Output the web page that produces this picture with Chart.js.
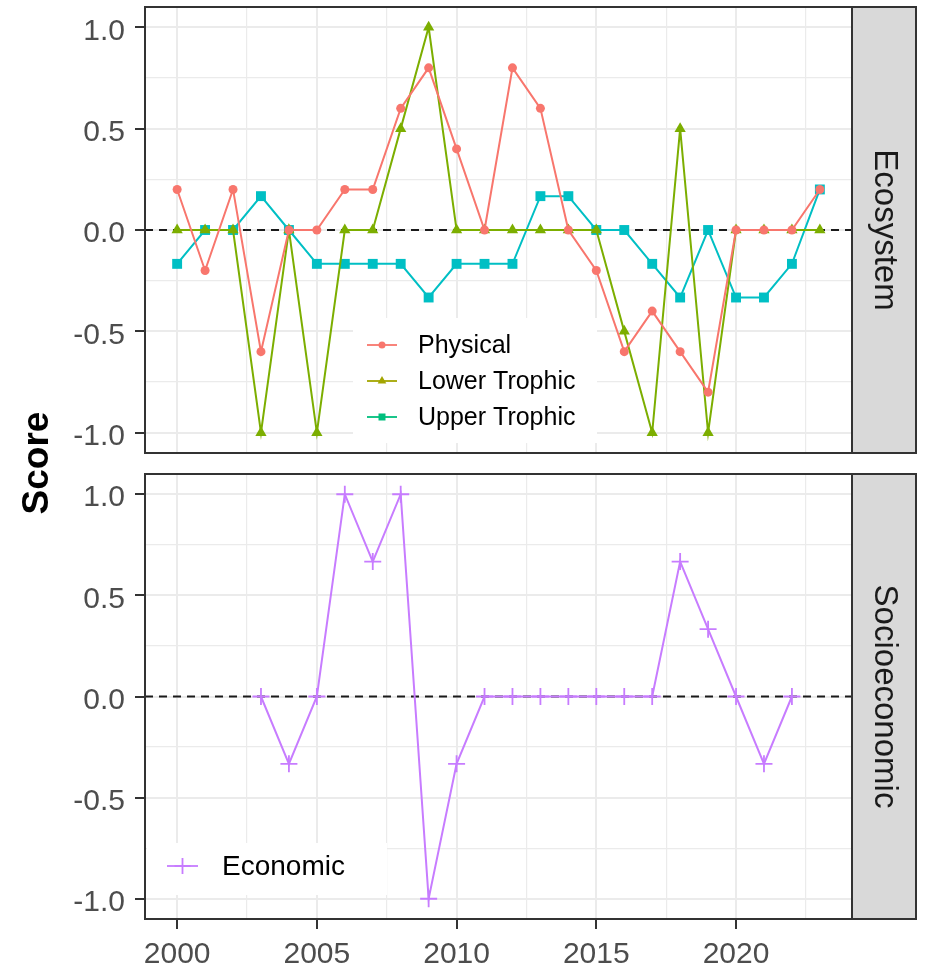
<!DOCTYPE html>
<html>
<head>
<meta charset="utf-8">
<script src="https://cdn.jsdelivr.net/npm/chart.js@4.4.1/dist/chart.umd.min.js"></script>
<style>
  html, body { margin: 0; padding: 0; background: #ffffff; }
  #wrap { position: relative; width: 927px; height: 968px; }
  #wrap canvas { position: absolute; left: 0; top: 0; }
</style>
</head>
<body>
<div id="wrap">
  <canvas id="eco" width="927" height="968"></canvas>
  <canvas id="soc" width="927" height="968"></canvas>
</div>
<script>
// ---- data -------------------------------------------------------------
const years = [2000, 2001, 2002, 2003, 2004, 2005, 2006, 2007, 2008, 2009, 2010, 2011,
               2012, 2013, 2014, 2015, 2016, 2017, 2018, 2019, 2020, 2021, 2022, 2023];

const physical     = [0.2, -0.2, 0.2, -0.6, 0, 0, 0.2, 0.2, 0.6, 0.8, 0.4, 0,
                      0.8, 0.6, 0, -0.2, -0.6, -0.4, -0.6, -0.8, 0, 0, 0, 0.2];
const lowerTrophic = [0, 0, 0, -1, 0, -1, 0, 0, 0.5, 1, 0, 0,
                      0, 0, 0, 0, -0.5, -1, 0.5, -1, 0, 0, 0, 0];
const upperTrophic = [-0.167, 0, 0, 0.167, 0, -0.167, -0.167, -0.167, -0.167, -0.333, -0.167, -0.167,
                      -0.167, 0.167, 0.167, 0, 0, -0.167, -0.333, 0, -0.333, -0.333, -0.167, 0.2];
const economic     = [null, null, null, 0, -0.333, 0, 1, 0.667, 1, -1, -0.333, 0,
                      0, 0, 0, 0, 0, 0, 0.667, 0.333, 0, -0.333, 0, null];

const xTickValues = [2000, 2002.5, 2005, 2007.5, 2010, 2012.5, 2015, 2017.5, 2020, 2022.5];
const yTickValues = [-1, -0.75, -0.5, -0.25, 0, 0.25, 0.5, 0.75, 1];

const panelNames = ['Ecosystem', 'Socioeconomic'];
const yTitle = 'Score';

// ---- styling ----------------------------------------------------------
const FONT = "'Liberation Sans', Arial, Helvetica, sans-serif";
const COL = { physical: '#F8766D', lower: '#7CAE00', upper: '#00BFC4', economic: '#C77CFF' };
const LINE_W = 2;

function series(values) {
  return years.map((yr, i) => ({ x: yr, y: values[i] }));
}

// small marker painter used by the in-panel legends
function drawMarker(ctx, style, x, y, r, color) {
  ctx.save();
  ctx.fillStyle = color;
  ctx.strokeStyle = color;
  ctx.beginPath();
  if (style === 'circle') {
    ctx.arc(x, y, r, 0, Math.PI * 2);
    ctx.fill();
  } else if (style === 'triangle') {
    ctx.moveTo(x, y - r);
    ctx.lineTo(x + r * 0.866, y + r * 0.5);
    ctx.lineTo(x - r * 0.866, y + r * 0.5);
    ctx.closePath();
    ctx.fill();
  } else if (style === 'rect') {
    ctx.rect(x - r, y - r, 2 * r, 2 * r);
    ctx.fill();
  } else if (style === 'cross') {
    ctx.lineWidth = 1.8;
    ctx.moveTo(x - r, y); ctx.lineTo(x + r, y);
    ctx.moveTo(x, y - r); ctx.lineTo(x, y + r);
    ctx.stroke();
  }
  ctx.restore();
}

// zero reference line, panel frame, facet strip, legend box and shared y title
const panelDecor = {
  id: 'panelDecor',
  beforeDatasetsDraw(chart) {
    const { ctx, chartArea: a, scales: { y } } = chart;
    const y0 = y.getPixelForValue(0);
    ctx.save();
    ctx.strokeStyle = '#1a1a1a';
    ctx.lineWidth = 1.8;
    ctx.setLineDash([8, 6]);
    ctx.beginPath();
    ctx.moveTo(a.left, y0);
    ctx.lineTo(a.right, y0);
    ctx.stroke();
    ctx.restore();
  },
  afterDraw(chart, args, opts) {
    const { ctx, chartArea: a } = chart;
    ctx.save();
    // panel frame
    ctx.strokeStyle = '#333333';
    ctx.lineWidth = 2;
    ctx.strokeRect(a.left, a.top, a.right - a.left, a.bottom - a.top);
    // facet strip
    const sx = a.right, sw = 64;
    ctx.fillStyle = '#d9d9d9';
    ctx.fillRect(sx, a.top, sw, a.bottom - a.top);
    ctx.strokeRect(sx, a.top, sw, a.bottom - a.top);
    ctx.save();
    ctx.translate(sx + sw / 2, (a.top + a.bottom) / 2);
    ctx.rotate(Math.PI / 2);
    ctx.fillStyle = '#1a1a1a';
    ctx.font = '33px ' + FONT;
    ctx.textAlign = 'center';
    ctx.textBaseline = 'middle';
    ctx.fillText(opts.strip, 0, 0);
    ctx.restore();

    // legend
    const lg = opts.legend;
    if (lg) {
      ctx.fillStyle = '#ffffff';
      ctx.fillRect(lg.x, lg.y, lg.w, lg.h);
      lg.items.forEach((it, i) => {
        const cy = lg.firstRow + i * lg.rowGap;
        ctx.strokeStyle = it.color;
        ctx.lineWidth = 1.8;
        ctx.setLineDash([]);
        ctx.beginPath();
        ctx.moveTo(lg.keyX0, cy);
        ctx.lineTo(lg.keyX1, cy);
        ctx.stroke();
        drawMarker(ctx, it.style, (lg.keyX0 + lg.keyX1) / 2, cy, it.r, it.color);
        ctx.fillStyle = '#000000';
        ctx.font = lg.fontSize + 'px ' + FONT;
        ctx.textAlign = 'left';
        ctx.textBaseline = 'middle';
        ctx.fillText(it.label, lg.textX, cy + 1);
      });
    }

    // shared y-axis title
    if (opts.title) {
      ctx.save();
      ctx.translate(opts.title.x, opts.title.y);
      ctx.rotate(-Math.PI / 2);
      ctx.fillStyle = '#000000';
      ctx.font = 'bold 37px ' + FONT;
      ctx.textAlign = 'center';
      ctx.textBaseline = 'middle';
      ctx.fillText(opts.title.text, 0, 0);
      ctx.restore();
    }
    ctx.restore();
  }
};

const isMajorX = v => Math.abs(v % 5) < 1e-9;
const isMajorY = v => Math.abs(v * 2 - Math.round(v * 2)) < 1e-9;

function noEdgePadding(s) {
  s.paddingTop = 0; s.paddingBottom = 0; s.paddingLeft = 0; s.paddingRight = 0;
}

function buildOptions(cfg) {
  return {
    animation: false,
    responsive: false,
    devicePixelRatio: 1,
    events: [],
    layout: { padding: cfg.padding },
    plugins: {
      legend: { display: false },
      tooltip: { enabled: false },
      panelDecor: cfg.decor
    },
    elements: { line: { tension: 0 } },
    scales: {
      x: {
        type: 'linear',
        min: 1998.85,
        max: 2024.15,
        afterBuildTicks: s => { s.ticks = xTickValues.map(v => ({ value: v })); },
        afterFit: s => { s.height = cfg.xHeight; noEdgePadding(s); },
        border: { display: false },
        grid: {
          color: '#ebebeb',
          lineWidth: c => (c.tick && isMajorX(c.tick.value)) ? 2 : 1.2,
          drawTicks: cfg.showX,
          tickLength: 10,
          tickWidth: 2,
          tickColor: c => (c.tick && isMajorX(c.tick.value)) ? '#333333' : 'rgba(0,0,0,0)'
        },
        ticks: {
          display: cfg.showX,
          autoSkip: false,
          maxRotation: 0,
          padding: 8,
          color: '#4d4d4d',
          font: { family: FONT, size: 30 },
          callback: v => isMajorX(v) ? String(v) : ''
        }
      },
      y: {
        type: 'linear',
        min: -1.1,
        max: 1.1,
        afterBuildTicks: s => { s.ticks = yTickValues.map(v => ({ value: v })); },
        afterFit: s => { s.width = 145; noEdgePadding(s); },
        border: { display: false },
        grid: {
          color: '#ebebeb',
          lineWidth: c => (c.tick && isMajorY(c.tick.value)) ? 2 : 1.2,
          tickLength: 10,
          tickWidth: 2,
          tickColor: c => (c.tick && isMajorY(c.tick.value)) ? '#333333' : 'rgba(0,0,0,0)'
        },
        ticks: {
          autoSkip: false,
          padding: 10,
          labelOffset: 4,
          color: '#4d4d4d',
          font: { family: FONT, size: 30 },
          callback: v => isMajorY(v) ? v.toFixed(1) : ''
        }
      }
    }
  };
}

// ---- Ecosystem panel ---------------------------------------------------
new Chart(document.getElementById('eco'), {
  type: 'line',
  data: {
    datasets: [
      { label: 'Physical', data: series(physical), borderColor: COL.physical, backgroundColor: COL.physical,
        borderWidth: LINE_W, pointStyle: 'circle', pointRadius: 4.5, pointBorderWidth: 0,
        pointBackgroundColor: COL.physical },
      { label: 'Lower Trophic', data: series(lowerTrophic), borderColor: COL.lower, backgroundColor: COL.lower,
        borderWidth: LINE_W, pointStyle: 'triangle', pointRadius: 6.5, pointBorderWidth: 0,
        pointBackgroundColor: COL.lower },
      { label: 'Upper Trophic', data: series(upperTrophic), borderColor: COL.upper, backgroundColor: COL.upper,
        borderWidth: LINE_W, pointStyle: 'rect', pointRadius: 7, pointBorderWidth: 0,
        pointBackgroundColor: COL.upper }
    ]
  },
  options: buildOptions({
    padding: { left: 0, right: 75, top: 7, bottom: 515 },
    xHeight: 0,
    showX: false,
    decor: {
      strip: panelNames[0],
      title: { text: yTitle, x: 38, y: 463 },
      legend: {
        x: 353, y: 318, w: 244, h: 125,
        keyX0: 367, keyX1: 397, textX: 418, firstRow: 345, rowGap: 36, fontSize: 25,
        items: [
          { label: 'Physical', color: '#F8766D', style: 'circle', r: 3.5 },
          { label: 'Lower Trophic', color: '#A3A500', style: 'triangle', r: 5 },
          { label: 'Upper Trophic', color: '#00BF7D', style: 'rect', r: 3.5 }
        ]
      }
    }
  }),
  plugins: [panelDecor]
});

// ---- Socioeconomic panel -----------------------------------------------
new Chart(document.getElementById('soc'), {
  type: 'line',
  data: {
    datasets: [
      { label: 'Economic', data: series(economic), borderColor: COL.economic, backgroundColor: COL.economic,
        borderWidth: LINE_W, pointStyle: 'cross', pointRadius: 8.5, pointBorderWidth: 1.8,
        pointBorderColor: COL.economic, spanGaps: false }
    ]
  },
  options: buildOptions({
    padding: { left: 0, right: 75, top: 474, bottom: 0 },
    xHeight: 49,
    showX: true,
    decor: {
      strip: panelNames[1],
      legend: {
        x: 147, y: 843, w: 240, h: 52,
        keyX0: 167, keyX1: 198, textX: 222, firstRow: 866, rowGap: 36, fontSize: 28,
        items: [
          { label: 'Economic', color: '#C77CFF', style: 'cross', r: 8 }
        ]
      }
    }
  }),
  plugins: [panelDecor]
});
</script>
</body>
</html>
